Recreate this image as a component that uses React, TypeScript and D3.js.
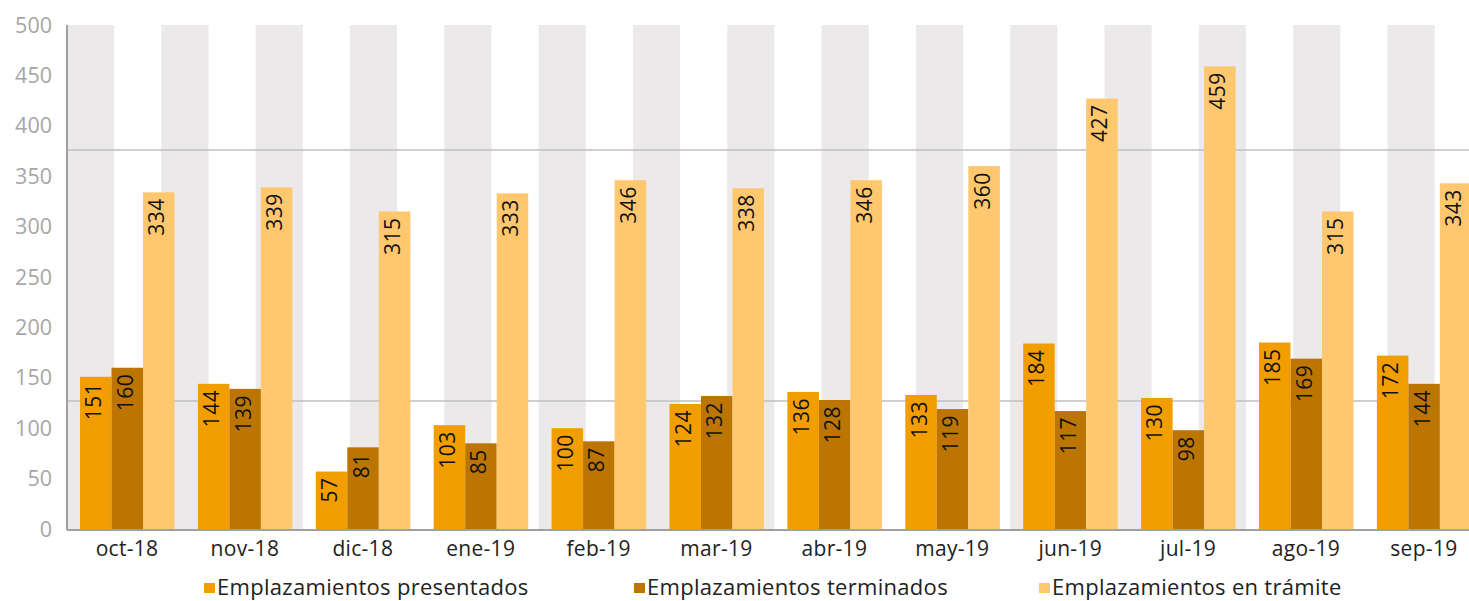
import React from "react";
import * as d3 from "d3";

const categories = ["oct-18", "nov-18", "dic-18", "ene-19", "feb-19", "mar-19", "abr-19", "may-19", "jun-19", "jul-19", "ago-19", "sep-19"];
const presentados = [151, 144, 57, 103, 100, 124, 136, 133, 184, 130, 185, 172];
const terminados = [160, 139, 81, 85, 87, 132, 128, 119, 117, 98, 169, 144];
const tramite = [334, 339, 315, 333, 346, 338, 346, 360, 427, 459, 315, 343];
const seriesNames = ["Emplazamientos presentados", "Emplazamientos terminados", "Emplazamientos en trámite"];
const seriesColors = ["#F29D00", "#BB7500", "#FFC76E"];
const yTicks = [0, 50, 100, 150, 200, 250, 300, 350, 400, 450, 500];
const refLines = [376, 127];

const W = 1469, H = 601;
const left = 67, top = 25, bottom = 529;
const catW = 117.9;

export default function App() {
  const series = [presentados, terminados, tramite];
  const x = d3.scaleBand<string>().domain(categories).range([left, left + catW * categories.length]).paddingInner(0).paddingOuter(0);
  const inner = d3.scaleBand<number>().domain([0, 1, 2]).range([13, 13 + 94.5]);
  const y = d3.scaleLinear().domain([0, 500]).range([bottom, top]);
  const bandPeriod = catW * 0.8;
  const bands = d3.range(left, W, bandPeriod);
  const font = "'Open Sans', sans-serif";
  const legendX = [204, 634, 1039];
  return (
    <svg width={W} height={H} style={{ position: "absolute", left: 0, top: 0, background: "#fff" }}>
      {bands.map((b, i) => (
        <rect key={i} x={b} y={top} width={Math.min(bandPeriod / 2, W - b)} height={bottom - top} fill="#EBE9EA" />
      ))}
      {refLines.map((v, i) => (
        <line key={i} x1={left} x2={W} y1={y(v)} y2={y(v)} stroke="#BFBFBF" strokeWidth={1.5} />
      ))}
      {series.map((vals, si) =>
        vals.map((v, ci) => {
          const bx = (x(categories[ci]) as number) + (inner(si) as number);
          const bw = inner.bandwidth();
          return (
            <g key={`${si}-${ci}`}>
              <rect x={bx} y={y(v)} width={bw} height={bottom - y(v)} fill={seriesColors[si]} />
              <text
                transform={`translate(${bx + bw / 2 + 5.5},${y(v) + 6}) rotate(-90)`}
                textAnchor="end"
                fontFamily={font}
                fontSize={21}
                letterSpacing={0.5}
                fill="#111"
              >
                {v}
              </text>
            </g>
          );
        })
      )}
      <line x1={left} x2={left} y1={top} y2={bottom + 1} stroke="#A0A0A0" strokeWidth={2} />
      <line x1={left} x2={W} y1={bottom + 1} y2={bottom + 1} stroke="#A0A0A0" strokeWidth={2} />
      {yTicks.map((t) => (
        <text key={t} x={52} y={y(t) + 7.5} textAnchor="end" fontFamily={font} fontSize={21.5} fill="#A6A6A6">
          {t}
        </text>
      ))}
      {categories.map((c) => (
        <text key={c} x={(x(c) as number) + 13 + 47} y={556} textAnchor="middle" fontFamily={font} fontSize={21} letterSpacing={0.3} fill="#222">
          {c}
        </text>
      ))}
      {seriesNames.map((n, i) => (
        <g key={n}>
          <rect x={legendX[i]} y={583} width={11} height={10} fill={seriesColors[i]} />
          <text x={legendX[i] + 13} y={595} fontFamily={font} fontSize={22} letterSpacing={0.3} fill="#222">
            {n}
          </text>
        </g>
      ))}
    </svg>
  );
}
